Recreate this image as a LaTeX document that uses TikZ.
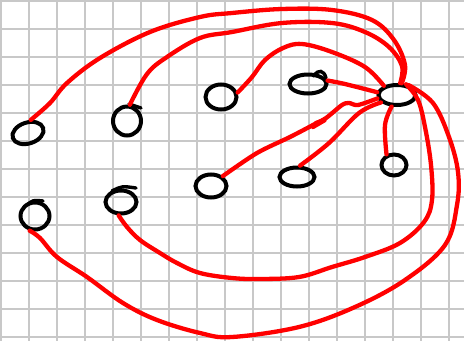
\documentclass[tikz,border=0pt]{standalone}
\usetikzlibrary{shapes.geometric}
\definecolor{gridgray}{RGB}{200,200,200}
\definecolor{inkred}{RGB}{255,0,0}
\tikzset{
  gridline/.style={draw=gridgray,line width=1.6pt},
  blob/.style={ellipse,draw=black,line width=4pt,inner sep=0pt},
  tick/.style={draw=black,line width=3.4pt,line cap=round},
  link/.style={draw=inkred,line width=4.3pt,line cap=round,line join=round},
}
\begin{document}
\begin{tikzpicture}[x=1pt,y=-1pt]
\fill[white] (0,0) rectangle (464,341);
\useasboundingbox (0,0) rectangle (464,341);
% grid
\foreach \k in {0,...,16} \draw[gridline] ({1+28*\k},0) -- ({1+28*\k},341);
\foreach \k in {0,...,12} \draw[gridline] (0,{1+28*\k}) -- (464,{1+28*\k});
% nodes
\node[blob,minimum width=37pt,minimum height=20pt] (hub) at (397,95) {};
\node[blob,minimum width=37pt,minimum height=19pt] (D) at (308,84) {};
\node[blob,minimum width=31pt,minimum height=25pt] (C) at (221,97) {};
\node[blob,minimum width=28pt,minimum height=29pt] (B) at (127,121) {};
\node[blob,minimum width=32pt,minimum height=21pt,rotate=18] (A) at (28,133) {};
\node[blob,minimum width=31pt,minimum height=23pt] (E) at (211,186) {};
\node[blob,minimum width=35pt,minimum height=19pt] (F) at (297,177) {};
\node[blob,minimum width=25pt,minimum height=21pt] (G) at (394,165) {};
\node[blob,minimum width=29pt,minimum height=27pt] (I) at (35,216) {};
\node[blob,minimum width=31pt,minimum height=23pt] (J) at (121,202) {};
% small pen ticks
\draw[tick] (129,104) -- (141,108);
\draw[tick] (112,191) .. controls (122,186) .. (136,188);
\draw[tick] (27,205) .. controls (33,200) .. (43,201);
\draw[tick] (314,76) .. controls (318,69) and (324,70) .. (326,78);
% connectors
\draw[link] plot[smooth,tension=0.6] coordinates {(hub.68) (405,65) (394,40) (372,20) (332,10) (282,9) (232,13) (200,17) (150,32) (100,58) (67,83) (50,103) (A.60)};
\draw[link] plot[smooth,tension=0.6] coordinates {(hub.75) (402,66) (389,47) (365,32) (332,23) (282,23) (232,32) (200,38) (167,57) (147,74) (B.80)};
\draw[link] plot[smooth,tension=0.6] coordinates {(C.15) (252,77) (265,60) (283,48) (302,44) (332,52) (365,67) (hub.145)};
\draw[link] plot[smooth,tension=0.6] coordinates {(D.10) (345,84) (hub.172)};
\draw[link] plot[smooth,tension=0.5] coordinates {(E.40) (257,153) (290,137) (313,125) (326,118) (342,105) (349,103) (358,105) (hub.190)};
\draw[link] (313,127) -- (325,120) -- (316,123);
\draw[link] plot[smooth,tension=0.6] coordinates {(F.75) (329,143) (359,113) (hub.205)};
\draw[link] plot[smooth,tension=0.6] coordinates {(hub.245) (385,125) (G.125)};
\draw[link] plot[smooth,tension=0.6] coordinates {(hub.50) (418,100) (425,127) (431,165) (432,200) (424,222) (400,243) (365,257) (332,267) (299,277) (260,279) (232,278) (200,273) (177,263) (160,253) (140,240) (127,227) (J.260)};
\draw[link] plot[smooth,tension=0.6] coordinates {(hub.40) (433,103) (449,137) (458,172) (457,205) (445,245) (405,280) (355,307) (299,327) (232,337) (200,333) (157,320) (123,303) (87,277) (57,257) (40,238) (I.250)};
\end{tikzpicture}
\end{document}
